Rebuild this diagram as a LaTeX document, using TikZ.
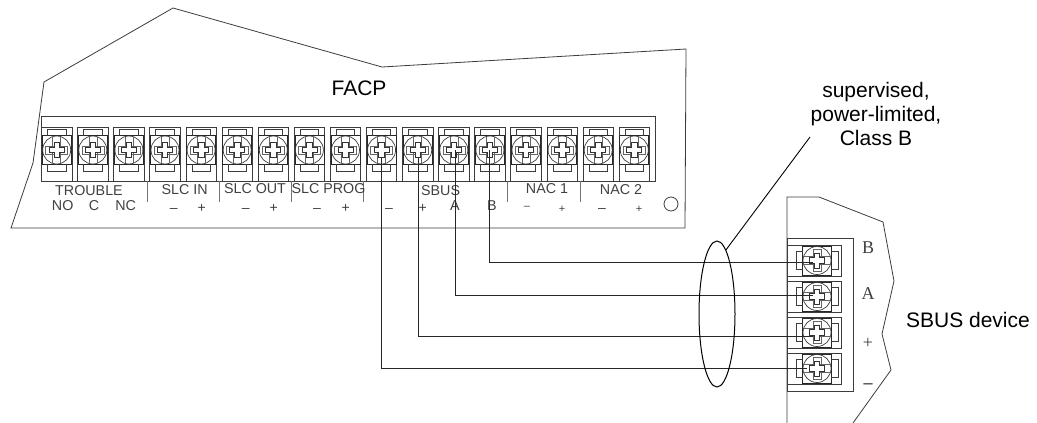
\documentclass[tikz,border=0pt]{standalone}
\usepackage{fontspec}
\usetikzlibrary{shapes.geometric}
\setmainfont{Liberation Sans}
\newfontfamily\serifdev{Liberation Serif}
\definecolor{lineg}{HTML}{3C3C3C}
\definecolor{txtg}{HTML}{404040}
\tikzset{
  x=1pt,y=-1pt,
  outline/.style={draw=lineg,line width=0.8pt,line join=miter},
  wire/.style={draw=black!85,line width=0.9pt},
  bigtext/.style={font=\fontsize{21}{24}\selectfont,text=black,inner sep=0pt,anchor=base,align=center},
  lab/.style={font=\fontsize{14.3}{16}\selectfont,text=txtg,inner sep=0pt,anchor=base},
  sign/.style={font=\fontsize{14}{16}\selectfont,text=txtg,inner sep=0pt,anchor=base},
  devlab/.style={font=\serifdev\fontsize{18}{20}\selectfont,text=txtg,inner sep=0pt,anchor=base},
  sep/.style={draw=gray!90!black,line width=0.8pt},
  screwhead/.pic={
    \draw[draw=black!85,line width=0.8pt] (-14.5,-14.3) rectangle (14.5,14.3);
    \draw[outline] (-9.2,-14.3) -- (-9.2,-20.5) -- (9.2,-20.5) -- (9.2,-14.3);
    \draw[outline] (-9.2,14.3) -- (-9.2,21) -- (9.2,21) -- (9.2,14.3);
    \draw[draw=lineg,line width=0.7pt] (0,0) circle (14);
    \draw[draw=lineg!80,line width=0.55pt] (-11,-4) rectangle (11,4);
    \draw[draw=lineg!80,line width=0.55pt] (-4,-13.4) -- (-4,13.4) (4,-13.4) -- (4,13.4);
    \draw[draw=black!80,fill=white,line width=0.7pt]
      (-2.8,-7.5) -- (2.8,-7.5) -- (2.8,-2.8) -- (7.5,-2.8) -- (7.5,2.8) -- (2.8,2.8) -- (2.8,7.5)
      -- (-2.8,7.5) -- (-2.8,2.8) -- (-7.5,2.8) -- (-7.5,-2.8) -- (-2.8,-2.8) -- cycle;
  }
}
\begin{document}
\begin{tikzpicture}
\useasboundingbox (0,0) rectangle (1037,423);
% FACP board outline
\draw[outline] (44,82) -- (173,8) -- (382,67) -- (686,49) -- (685,228) -- (11,228) -- (33,163) -- cycle;
% terminal strip
\draw[outline] (41.5,181) -- (41.5,116) -- (655,116) -- (655,181) -- cycle;
\foreach \i in {0,...,16}{
  \pgfmathsetmacro{\cx}{56.7+36.1*\i}
  \draw[outline] (\cx-15.2,181) -- (\cx-15.2,127.7) -- (\cx+15.2,127.7) -- (\cx+15.2,181);
  \coordinate (ft\i) at (\cx,150);
  \pic at (ft\i) {screwhead};
}
% separators
\foreach \sx in {147,219.3,291.3,363.7,507.7,580}{\draw[sep] (\sx,181) -- (\sx,202);}
% mounting hole
\node[draw=lineg,line width=0.8pt,circle,minimum size=14pt,inner sep=0pt] (hole) at (671,204) {};
% labels on board
\node[bigtext] (facp) at (359,95) {FACP};
\node[lab] (trouble) at (89,195) {TROUBLE};
\node[lab] (no) at (62.7,210) {NO};
\node[lab] (c) at (94,210) {C};
\node[lab] (nc) at (125.7,210) {NC};
\node[lab] (slcin) at (184.7,194.5) {SLC IN};
\node[lab] (slcout) at (255,193) {SLC OUT};
\node[lab] (slcprog) at (328.5,193) {SLC PROG};
\node[lab] (sbus) at (440.6,195) {SBUS};
\node[lab] (aa) at (455,210) {A};
\node[lab] (bb) at (492,210) {B};
\node[lab] (nac1) at (547,193) {NAC 1};
\node[lab] (nac2) at (621,194) {NAC 2};
\foreach \sx/\nm/\tx in {173.7/s1/–,201.7/s2/+,245.7/s3/–,273.7/s4/+,317/s5/–,345.7/s6/+,389/s7/–,422.7/s8/+,602/s11/–}{
  \node[sign] (\nm) at (\sx,212.7) {\tx};
}
\node[sign,font=\fontsize{11}{12}\selectfont] (s9) at (527,209) {–};
\node[sign,font=\fontsize{11}{12}\selectfont] (s10) at (562,212) {+};
\node[sign,font=\fontsize{11}{12}\selectfont] (s12) at (639,212) {+};
% device outline
\draw[outline] (787,423) -- (787,197) -- (819,197) -- (883,222) -- (894,281) -- (882,334) -- (891,370) -- (853,423);
\draw[outline] (787,238) rectangle (853.5,391);
\foreach \j/\cy in {1/260.5,2/296.5,3/332.5,4/368.5}{
  \draw[outline] (787,\cy-15.5) rectangle (841,\cy+15.5);
  \coordinate (dt\j) at (817,\cy);
  \pic[rotate=90] at (dt\j) {screwhead};
}
\node[devlab] (db) at (868,253) {B};
\node[devlab] (da) at (868,299) {A};
\node[devlab] (dp) at (868,348) {+};
\node[devlab,font=\serifdev\bfseries\fontsize{18}{20}\selectfont] (dm) at (868,388) {–};
% wires
\coordinate (w1s) at (381,158);
\coordinate (w2s) at (418,158);
\coordinate (w3s) at (455,150);
\coordinate (w4s) at (489,150);
\coordinate (w1e) at (807,368);
\coordinate (w2e) at (813,336);
\coordinate (w3e) at (813,295);
\coordinate (w4e) at (813,262);
\draw[wire] (w1s) |- (w1e);
\draw[wire] (w2s) |- (w2e);
\draw[wire] (w3s) |- (w3e);
\draw[wire] (w4s) |- (w4e);
% cable ellipse and leader
\node[draw=black,line width=1pt,ellipse,minimum width=36pt,minimum height=146pt,inner sep=0pt] (cable) at (717,314) {};
\coordinate (lead) at (810,137);
\draw[draw=black,line width=0.9pt] (cable.82) -- (lead);
\node[bigtext,anchor=center] (note) at (876,114) {supervised,\\power-limited,\\Class B};
\node[bigtext] (dev) at (968,327) {SBUS device};
\end{tikzpicture}
\end{document}
